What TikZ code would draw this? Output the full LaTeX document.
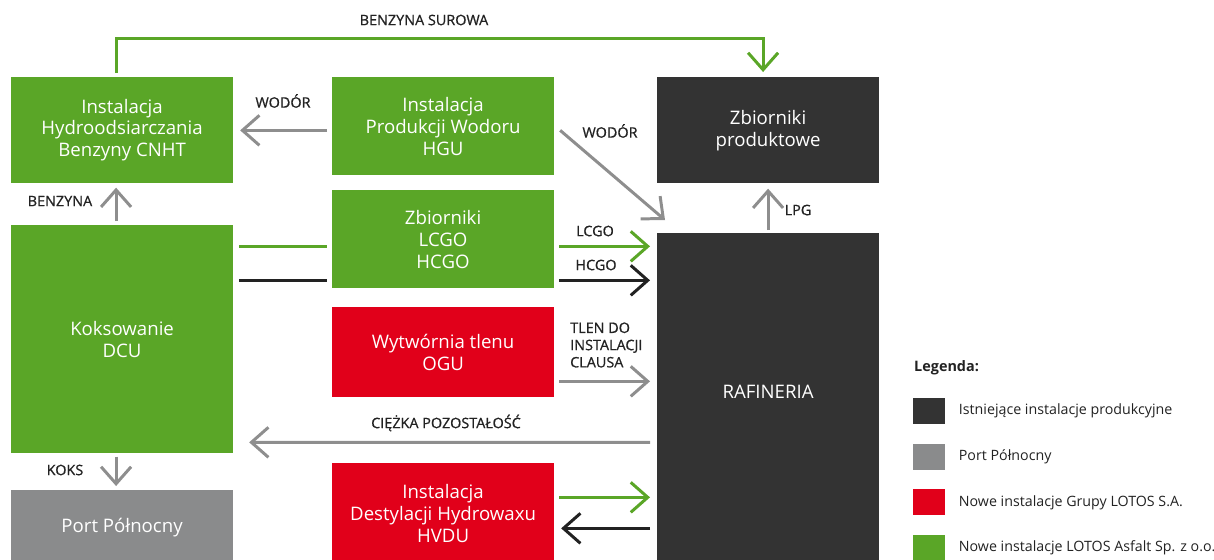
\documentclass[tikz,border=0pt]{standalone}
\usepackage{fontspec}
\setmainfont{Open Sans}
\newfontfamily\labfont{Open Sans}[FakeBold=0.8]
\usepackage{xcolor}
\usepackage{tikz}
\usetikzlibrary{arrows.meta, calc}
\definecolor{lgreen}{HTML}{5AA627}
\definecolor{ldark}{HTML}{333333}
\definecolor{lgray}{HTML}{8A8B8C}
\definecolor{lred}{HTML}{E1001A}
\definecolor{lline}{HTML}{8E8E8E}
\definecolor{ltext}{HTML}{222222}

\begin{document}
\begin{tikzpicture}[x=0.02cm, y=-0.02cm,
    unit/.style={anchor=north west, minimum width=4.43cm, inner sep=0pt, text=white,
        align=center, font=\fontsize{10.6}{12.4}\selectfont},
    flow/.style={line width=1.7pt, -{Straight Barb[length=3.4mm, width=6mm]}},
    lab/.style={text=ltext, font=\labfont\fontsize{8.2}{9.8}\selectfont},
    swatch/.style={anchor=north west, minimum width=0.64cm, minimum height=0.52cm, inner sep=0pt}]
    \useasboundingbox (0,0) rectangle (1214,559);

    % units
    \node[unit, fill=lgreen, minimum height=2.12cm, text depth=0.1cm] (cnht) at (11,77) {Instalacja\\Hydroodsiarczania\\Benzyny CNHT};
    \node[unit, fill=lgreen, minimum height=4.56cm] (dcu) at (11,225) {Koksowanie\\DCU};
    \node[unit, fill=lgray, minimum height=1.5cm] (port) at (11,490) {Port Północny};
    \node[unit, fill=lgreen, minimum height=1.96cm] (hgu) at (332,77) {Instalacja\\Produkcji Wodoru\\HGU};
    \node[unit, fill=lgreen, minimum height=1.96cm] (tanks) at (332,190) {Zbiorniki\\LCGO\\HCGO};
    \node[unit, fill=lred, minimum height=1.8cm] (ogu) at (332,307) {Wytwórnia tlenu\\OGU};
    \node[unit, fill=lred, minimum height=2cm] (hvdu) at (332,463) {Instalacja\\Destylacji Hydrowaxu\\HVDU};
    \node[unit, fill=ldark, minimum height=2.12cm] (prod) at (657,77) {Zbiorniki\\produktowe};
    \node[unit, fill=ldark, minimum height=6.6cm,
        label={[text=white, yshift=0.14cm, font=\fontsize{10.6}{12.4}\selectfont]center:RAFINERIA}] (raf) at (657,233) {};

    % flows
    \draw[flow, lgreen] ($(cnht.north)+(-6,-4)$) -- ++(0,-35) -| ($(prod.north)+(-5,-5)$);
    \node[lab] (l1) at (424,20) {BENZYNA SUROWA};
    \draw[flow, lline] ($(hgu.west |- cnht.east)+(-5,0)$) -- ($(cnht.east)+(7,0)$);
    \node[lab] (l2) at (283,101) {WODÓR};
    \draw[flow, lline] ($(dcu.north)+(-6,-4)$) -- ($(cnht.south)+(-6,4)$);
    \node[lab] (l3) at (60,201) {BENZYNA};
    \draw[lgreen, line width=1.7pt] ($(dcu.east |- tanks.west)+(6,7)$) -- ($(tanks.west)+(-5,7)$);
    \draw[ltext, line width=1.7pt] ($(dcu.east |- tanks.west)+(6,41)$) -- ($(tanks.west)+(-5,41)$);
    \draw[flow, lline] ($(hgu.east)+(6,4)$) -- ($(raf.north west)+(8,-13)$);
    \node[lab] (l4) at (610,131) {WODÓR};
    \draw[flow, lgreen] ($(tanks.east)+(5,7)$) -- ($(raf.west |- tanks.east)+(-7,7)$);
    \node[lab] (l5) at (595,231) {LCGO};
    \draw[flow, ltext] ($(tanks.east)+(5,41)$) -- ($(raf.west |- tanks.east)+(-7,41)$);
    \node[lab] (l6) at (596,265) {HCGO};
    \draw[flow, lline] ($(raf.north)+(0,-3)$) -- ($(prod.south)+(0,5)$);
    \node[lab] (l7) at (798,210) {LPG};
    \draw[flow, lline] ($(ogu.east)+(5,29)$) -- ($(raf.west |- ogu.east)+(-7,29)$);
    \node[lab, align=left, anchor=west] (l8) at (564,345) {TLEN DO\\INSTALACJI\\CLAUSA};
    \draw[flow, lline] ($(raf.west)+(-7,44)$) -- ($(dcu.east)+(16,103)$);
    \node[lab] (l9) at (446,423) {CIĘŻKA POZOSTAŁOŚĆ};
    \draw[flow, lgreen] ($(hvdu.east)+(5,-16)$) -- ($(raf.west |- hvdu.east)+(-7,-16)$);
    \draw[flow, ltext] ($(raf.west |- hvdu.east)+(-7,15)$) -- ($(hvdu.east)+(7,15)$);
    \draw[flow, lline] ($(dcu.south)+(-6,3)$) -- ($(port.north)+(-6,-4)$);
    \node[lab] (l10) at (65,470) {KOKS};

    % legend
    \node[text=ltext, anchor=west, font=\fontsize{8.2}{9.8}\bfseries] (leg) at (908,368) {Legenda:};
    \foreach \c/\t [count=\i] in {ldark/Istniejące instalacje produkcyjne, lgray/Port Północny,
        lred/Nowe instalacje Grupy LOTOS S.A., lgreen/Nowe instalacje LOTOS Asfalt Sp. z o.o.} {
        \node[swatch, fill=\c] (k\i) at (913,{352+45.7*\i}) {};
        \node[lab, anchor=west, font=\fontsize{8.1}{9.8}\selectfont] (t\i) at ($(k\i.east)+(7,0)$) {\t};
    }
\end{tikzpicture}
\end{document}
